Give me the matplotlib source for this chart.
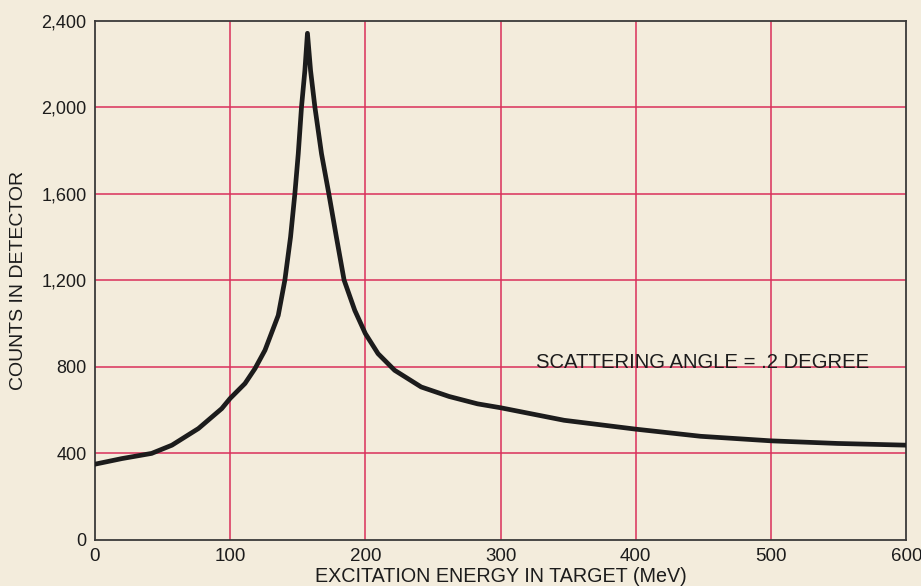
import matplotlib
matplotlib.use("Agg")
import matplotlib.pyplot as plt

# Data
energy_mev = [0, 20, 42, 57, 76.6, 93.8, 100, 111, 118.4, 125.8, 135.6,
              140.5, 144.7, 147.9, 150.4, 152.8, 155.3, 157.2,
              159.5, 162.7, 167.6, 173, 178.6, 184.3, 192.2, 200,
              209.4, 221.7, 241.3, 262, 283, 300, 347, 400, 448,
              500, 549, 600]
counts = [349, 375, 399, 437, 514, 606, 653, 722, 791, 876, 1037,
          1200, 1399, 1600, 1784, 2000, 2169, 2341,
          2169, 2000, 1784, 1600, 1399, 1200, 1060, 953,
          860, 783, 706, 662, 628, 610, 552, 511, 478,
          457, 445, 437]

x_ticks = [0, 100, 200, 300, 400, 500, 600]
x_tick_labels = ["0", "100", "200", "300", "400", "500", "600"]
y_ticks = [0, 400, 800, 1200, 1600, 2000, 2400]
y_tick_labels = ["0", "400", "800", "1,200", "1,600", "2,000", "2,400"]

x_label = "EXCITATION ENERGY IN TARGET (MeV)"
y_label = "COUNTS IN DETECTOR"
annotation = "SCATTERING ANGLE = .2 DEGREE"

font = "Liberation Sans"
bg = "#f3ecdc"
grid_col = "#d9305a"
ink = "#1c1c1c"

fig = plt.figure(figsize=(9.21, 5.86), dpi=100, facecolor=bg)
ax = fig.add_axes([0.103, 0.079, 0.881, 0.886])
ax.set_facecolor(bg)

ax.set_xlim(0, 600)
ax.set_ylim(0, 2400)

for xv in x_ticks[1:-1]:
    ax.axvline(xv, color=grid_col, lw=1.1, zorder=1)
for yv in y_ticks[1:-1]:
    ax.axhline(yv, color=grid_col, lw=1.1, zorder=1)

ax.plot(energy_mev, counts, color=ink, lw=3.4, solid_joinstyle="round",
        solid_capstyle="round", zorder=3)

for s in ax.spines.values():
    s.set_color("#3a3a3a")
    s.set_linewidth(1.3)

ax.set_xticks(x_ticks)
ax.set_xticklabels(x_tick_labels, family=font, fontsize=13.5, color=ink)
ax.set_yticks(y_ticks)
ax.set_yticklabels(y_tick_labels, family=font, fontsize=13, color=ink)
ax.tick_params(axis="both", length=0)
ax.tick_params(axis="x", pad=6)
ax.tick_params(axis="y", pad=6)

ax.set_xlabel(x_label, family=font, fontsize=14.2, color=ink, va="center")
ax.xaxis.set_label_coords(0.5, -0.07)
ax.set_ylabel(y_label, family=font, fontsize=14, color=ink, va="center")
ax.yaxis.set_label_coords(-0.094, 0.5)

ax.text(326, 820, annotation, family=font, fontsize=14.6, color=ink,
        ha="left", va="center", zorder=4)

fig.savefig("out.png", dpi=100, facecolor=bg)
